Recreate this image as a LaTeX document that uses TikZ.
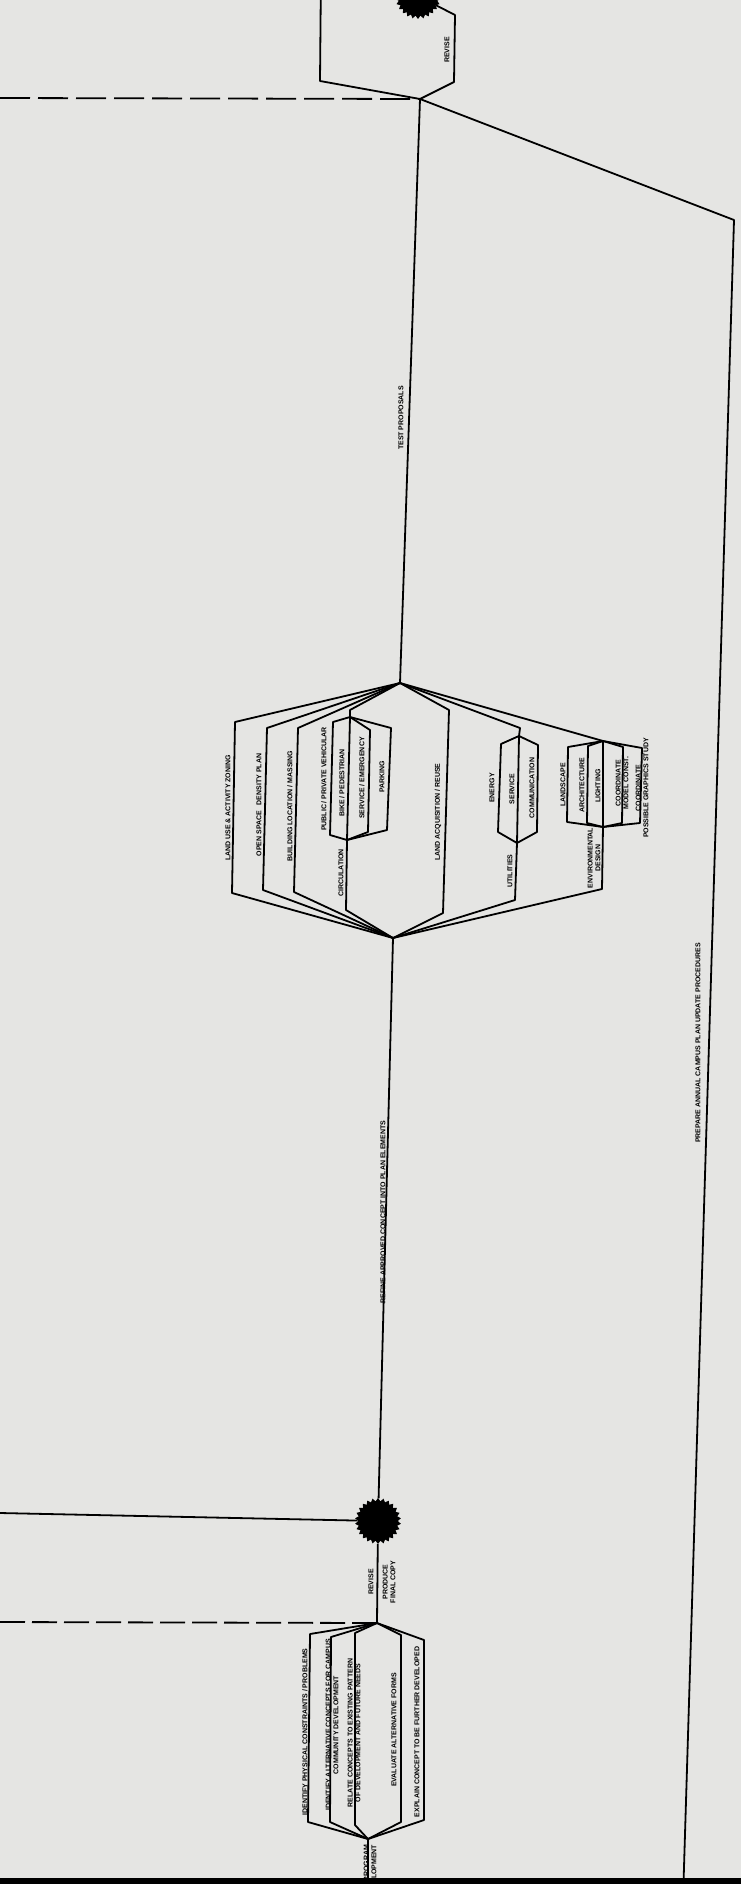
\documentclass[tikz,border=0pt]{standalone}
\usepackage{fontspec}
\setsansfont{Liberation Sans}
\usetikzlibrary{shapes.geometric}

\definecolor{paper}{RGB}{229,229,227}

\tikzset{
  flow/.style={line width=1.8pt, line join=round},
  lbl/.style={font=\sffamily\bfseries\fontsize{7}{7.8}\selectfont, rotate=90, inner sep=0.5pt, align=center},
  burst/.style={star, star points=26, star point ratio=1.16, fill=black, minimum size=46pt, inner sep=0pt},
}

\begin{document}
\begin{tikzpicture}[x=1pt, y=-1pt]
\fill[paper] (0,0) rectangle (741,1884);
\useasboundingbox (0,0) rectangle (741,1884);
\clip (0,0) rectangle (741,1884);

% split and join points
\node[burst] (starTop) at (418,-4) {};
\node[burst] (starBot) at (378,1521) {};
\coordinate (rvTL) at (321,-30);
\coordinate (rvB) at (420,99);
\coordinate (mT) at (400,683);
\coordinate (mB) at (393,938);
\coordinate (cT) at (350,717);
\coordinate (cB) at (347,840);
\coordinate (uT) at (519,736);
\coordinate (uB) at (517,843);
\coordinate (eT) at (603,741);
\coordinate (eB) at (603,827);
\coordinate (bT) at (377,1623);
\coordinate (bB) at (368,1839);
\coordinate (leftA) at (0,98);
\coordinate (leftB) at (0,1513);
\coordinate (leftC) at (0,1622);
\coordinate (rEdge) at (734,220);
\coordinate (rEnd) at (683,1900);
\coordinate (bEnd) at (368,1900);

% revise box at top
\draw[flow] (rvTL) -- (320,81) -- (rvB) -- (454,82) -- (455,15) -- (starTop);
\node[lbl] at (447,50) {REVISE};
\draw[flow, dash pattern=on 30pt off 8pt] (leftA) -- (rvB);

\draw[flow] (rvB) -- (mT);
\node[lbl] at (401,418) {TEST PROPOSALS};
\draw[flow] (rvB) -- (rEdge) -- (rEnd);
\node[lbl] at (698,1043) {PREPARE ANNUAL CAMPUS PLAN UPDATE PROCEDURES};

% plan elements
\draw[flow] (mT) -- (235,722) -- (232,893) -- (mB);
\node[lbl] at (228,808) {LAND USE \& ACTIVITY ZONING};
\draw[flow] (mT) -- (267,728) -- (263,890) -- (mB);
\node[lbl] at (259,805) {OPEN SPACE \ \ DENSITY PLAN};
\draw[flow] (mT) -- (298,728) -- (294,892) -- (mB);
\node[lbl] at (290,806) {BUILDING LOCATION / MASSING};
\draw[flow] (mT) -- (350,710) -- (cT) -- (cB) -- (346,910) -- (mB);
\node[lbl] at (341,873) {CIRCULATION};
\draw[flow] (cT) -- (333,722) -- (330,835) -- (cB);
\node[lbl] at (324,779) {PUBLIC / PRIVATE VEHICULAR};
\node[lbl] at (342,783) {BIKE / PEDESTRIAN};
\draw[flow] (cT) -- (370,730) -- (368,832) -- (cB);
\node[lbl] at (362,778) {SERVICE / EMERGENCY};
\draw[flow] (cT) -- (391,728) -- (387,830) -- (cB);
\node[lbl] at (382,777) {PARKING};
\draw[flow] (mT) -- (449,710) -- (443,913) -- (mB);
\node[lbl] at (438,812) {LAND ACQUISITION / REUSE};

\draw[flow] (mT) -- (520,728) -- (uT) -- (uB) -- (515,900) -- (mB);
\node[lbl] at (510,871) {UTILITIES};
\draw[flow] (uT) -- (501,744) -- (498,832) -- (uB);
\node[lbl] at (492,788) {ENERGY};
\node[lbl] at (512,789) {SERVICE};
\draw[flow] (uT) -- (538,745) -- (537,832) -- (uB);
\node[lbl] at (532,788) {COMMUNICATION};

\draw[flow] (mT) -- (eT) -- (eB) -- (602,889) -- (mB);
\node[lbl] at (594,858) {ENVIRONMENTAL\\DESIGN};
\draw[flow] (eT) -- (568,747) -- (567,822) -- (eB);
\node[lbl] at (563,785) {LANDSCAPE};
\draw[flow] (eT) -- (588,746) -- (587,823) -- (eB);
\node[lbl] at (582,785) {ARCHITECTURE};
\node[lbl] at (598,786) {LIGHTING};
\draw[flow] (eT) -- (623,747) -- (622,823) -- (eB);
\node[lbl] at (622,783) {COORDINATE\\MODEL CONST.};
\draw[flow] (eT) -- (642,748) -- (640,823) -- (eB);
\node[lbl] at (642,788) {COORDINATE\\POSSIBLE GRAPHICS STUDY};

\draw[flow] (mB) -- (starBot);
\node[lbl] at (383,1212) {REFINE APPROVED CONCEPT INTO PLAN ELEMENTS};
\draw[flow] (leftB) -- (starBot);

% concept stage
\draw[flow] (starBot) -- (bT);
\node[lbl] at (371,1582) {REVISE};
\node[lbl] at (389,1582) {PRODUCE\\FINAL COPY};
\draw[flow, dash pattern=on 25pt off 7pt] (leftC) -- (bT);
\draw[flow] (bT) -- (310,1634) -- (308,1822) -- (bB);
\node[lbl] at (305,1732) {IDENTIFY PHYSICAL CONSTRAINTS / PROBLEMS};
\draw[flow] (bT) -- (331,1637) -- (330,1822) -- (bB);
\node[lbl] at (332,1725) {IDENTIFY ALTERNATIVE CONCEPTS FOR CAMPUS\\COMMUNITY DEVELOPMENT};
\draw[flow] (bT) -- (355,1633) -- (355,1825) -- (bB);
\node[lbl] at (354,1733) {RELATE CONCEPTS TO EXISTING PATTERN\\OF DEVELOPMENT AND FUTURE NEEDS};
\draw[flow] (bT) -- (401,1635) -- (401,1822) -- (bB);
\node[lbl] at (394,1730) {EVALUATE ALTERNATIVE FORMS};
\draw[flow] (bT) -- (424,1640) -- (424,1820) -- (bB);
\node[lbl] at (417,1732) {EXPLAIN CONCEPT TO BE FURTHER DEVELOPED};
\draw[flow] (bB) -- (bEnd);
\node[lbl, anchor=east, align=right] at (370,1844) {PROGRAM\\DEVELOPMENT};

\fill[black] (0,1878) rectangle (741,1884);
\end{tikzpicture}
\end{document}
